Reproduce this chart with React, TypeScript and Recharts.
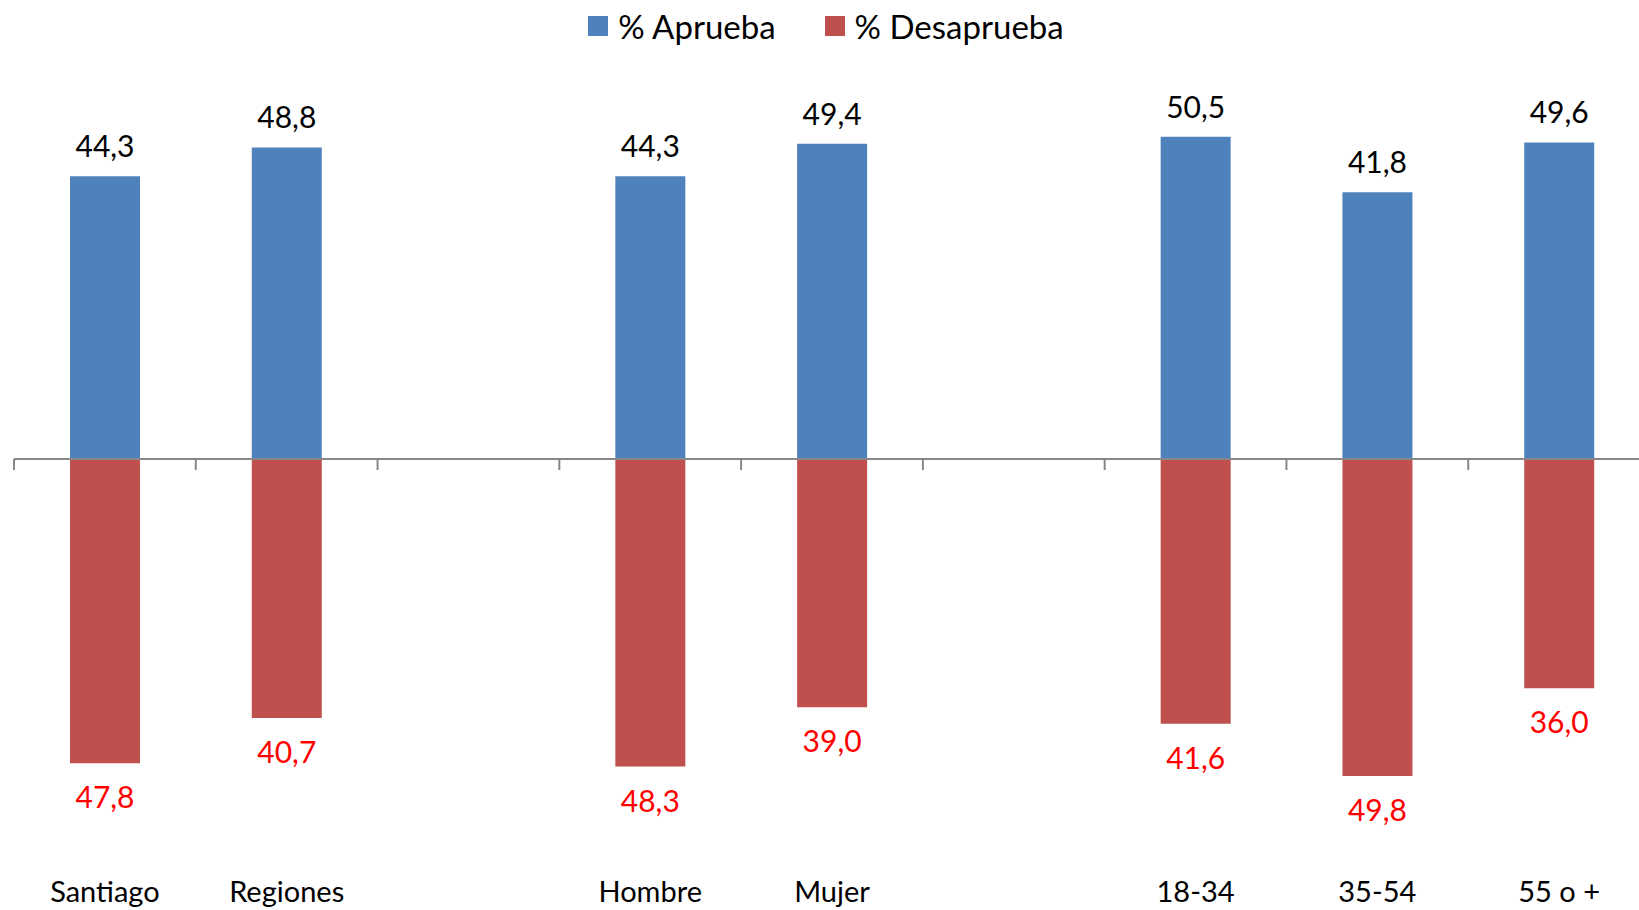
import { BarChart, Bar, XAxis, YAxis, Legend, LabelList } from 'recharts';

const categories = ['Santiago', 'Regiones', '', 'Hombre', 'Mujer', '', '18-34', '35-54', '55 o +'];
const aprueba = [44.3, 48.8, null, 44.3, 49.4, null, 50.5, 41.8, 49.6];
const desaprueba = [47.8, 40.7, null, 48.3, 39.0, null, 41.6, 49.8, 36.0];
const boldLabels = [false, false, false, false, false, false, false, false, true];

const BLUE = '#4F81BD';
const RED = '#C0504D';
const AXIS = '#888888';
const FONT = 'Lato, "Open Sans", sans-serif';

const rows = categories.map((name, i) => ({
  name,
  aprueba: aprueba[i],
  desaprueba: desaprueba[i] == null ? null : -(desaprueba[i] as number),
}));

const fmt = (v: any) => (v == null ? '' : Math.abs(Number(v)).toFixed(1).replace('.', ','));

const LegendBox = () => (
  <div style={{ display: 'flex', justifyContent: 'center', alignItems: 'center', height: 40, fontFamily: FONT, fontSize: 33, color: '#000' }}>
    {[
      { label: '% Aprueba', color: BLUE },
      { label: '% Desaprueba', color: RED },
    ].map((it, i) => (
      <div key={it.label} style={{ display: 'flex', alignItems: 'center', marginLeft: i ? 49 : 0 }}>
        <span style={{ width: 20, height: 20, background: it.color, display: 'inline-block', marginRight: 10 }} />
        <span>{it.label}</span>
      </div>
    ))}
  </div>
);

// Excel-style tick marks between categories
const BoundaryTick = (props: any) => {
  const { x, y, payload } = props;
  const half = payload?.offset ?? 0;
  const bx = x - half;
  return <line x1={bx} y1={y} x2={bx} y2={y + 11} stroke={AXIS} strokeWidth={2} />;
};

const TopLabel = (props: any) => {
  const { x, y, width, height, value } = props;
  if (value == null) return null;
  const top = Math.min(y, y + height);
  return (
    <text x={x + width / 2} y={top - 19} textAnchor="middle" fontFamily={FONT} fontSize={30} fill="#000">
      {fmt(value)}
    </text>
  );
};

const BottomLabel = (props: any) => {
  const { x, y, width, height, value, index } = props;
  if (value == null) return null;
  const bottom = Math.max(y, y + height);
  return (
    <text x={x + width / 2} y={bottom + 45} textAnchor="middle" fontFamily={FONT} fontSize={30}
      fontWeight={boldLabels[index] ? 700 : 400} fill="#FF0000">
      {fmt(value)}
    </text>
  );
};

export default function App() {
  return (
    <div style={{ position: 'absolute', left: 0, top: 0, width: 1639, height: 910, overflow: 'hidden', background: '#fff' }}>
      {/* lower half: Desaprueba bars + category labels */}
      <div style={{ position: 'absolute', left: 0, top: 459 }}>
        <BarChart width={1660} height={451} data={rows} margin={{ top: 0, right: 10, left: 14, bottom: 0 }}>
          <XAxis dataKey="name" axisLine={false} tickLine={false} tickSize={0} tickMargin={40} height={69} interval={0}
            tick={{ fill: '#000', fontSize: 29, fontFamily: FONT }} />
          <YAxis hide domain={[-60, 0]} />
          <Bar dataKey="desaprueba" fill={RED} barSize={70} isAnimationActive={false}>
            <LabelList dataKey="desaprueba" content={BottomLabel} />
          </Bar>
        </BarChart>
      </div>
      {/* upper half: legend, Aprueba bars, zero axis with tick marks */}
      <div style={{ position: 'absolute', left: 0, top: 0 }}>
        <BarChart width={1660} height={471} data={rows} margin={{ top: 36, right: 10, left: 14, bottom: 0 }}>
          <Legend verticalAlign="top" content={<LegendBox />} wrapperStyle={{ top: 6, left: 0, width: 1652 }} />
          <XAxis dataKey="name" interval={0} height={12} tickSize={0} tickMargin={0} tickLine={false}
            axisLine={{ stroke: AXIS, strokeWidth: 2 }} tick={<BoundaryTick />} />
          <YAxis hide domain={[0, 60]} />
          <Bar dataKey="aprueba" fill={BLUE} barSize={70} isAnimationActive={false}>
            <LabelList dataKey="aprueba" content={TopLabel} />
          </Bar>
        </BarChart>
      </div>
    </div>
  );
}
